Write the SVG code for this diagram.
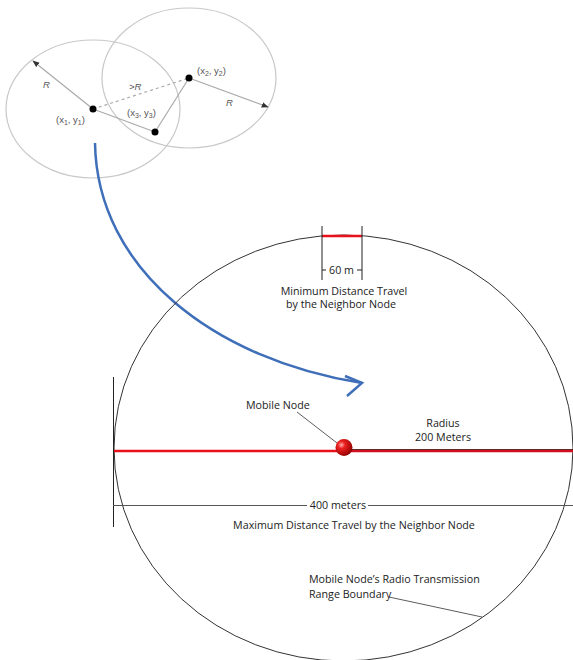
<svg xmlns="http://www.w3.org/2000/svg" width="573" height="660" viewBox="0 0 573 660">
<style>
.t{font-family:"Open Sans","Liberation Sans",sans-serif;font-size:10.7px;fill:#222}
.s{font-family:"Liberation Sans",Arial,sans-serif;font-size:9.5px;fill:#555}
.i{font-style:italic}
.lc{fill:none;stroke:#c8c8c8;stroke-width:1.2}
.gl{stroke:#aaa;stroke-width:1.2;fill:none}
.k{stroke:#222;stroke-width:1;fill:none}
</style>
<defs>
<marker id="tri" viewBox="0 0 10 10" refX="9" refY="5" markerWidth="7" markerHeight="7" orient="auto" markerUnits="userSpaceOnUse">
<path d="M0,1 L10,5 L0,9 z" fill="#333"/>
</marker>
<radialGradient id="ball" cx="0.35" cy="0.35" r="0.7">
<stop offset="0" stop-color="#ffb0b0"/>
<stop offset="0.3" stop-color="#ee2020"/>
<stop offset="1" stop-color="#900000"/>
</radialGradient>
</defs>

<g id="node-circle-1"><ellipse class="lc" cx="93" cy="109" rx="87" ry="69"/></g>
<g id="node-circle-2"><ellipse class="lc" cx="189" cy="78" rx="87" ry="70"/></g>

<g id="connectors">
<line class="gl" x1="93" y1="109" x2="33" y2="61" marker-end="url(#tri)"/>
<line class="gl" x1="189" y1="78" x2="268" y2="107" marker-end="url(#tri)"/>
<line class="gl" x1="93" y1="109" x2="189" y2="78" stroke-dasharray="3,3"/>
<line class="gl" x1="93" y1="109" x2="155" y2="132"/>
<line class="gl" x1="155" y1="132" x2="189" y2="78"/>
<path d="M95,143 C97,270 215,360 362,383" fill="none" stroke="#3f6fb8" stroke-width="2.5"/>
<path d="M345,376 L362,383 L347,396" fill="none" stroke="#3f6fb8" stroke-width="2.5"/>
<line x1="297" y1="412" x2="337" y2="443" stroke="#333" stroke-width="0.8"/>
<line x1="389" y1="597" x2="482" y2="617" stroke="#333" stroke-width="0.8"/>
</g>

<g id="node-points">
<circle cx="93" cy="109" r="3.5" fill="#000"/>
<circle cx="189" cy="78" r="3.5" fill="#000"/>
<circle cx="155" cy="132" r="3.5" fill="#000"/>
<text class="s i" x="43" y="88">R</text>
<text class="s i" x="226" y="106">R</text>
<text class="s i" x="129" y="90">&gt;R</text>
<text class="s" x="56" y="123">(x<tspan font-size="7" dy="2">1</tspan><tspan dy="-2">, y</tspan><tspan font-size="7" dy="2">1</tspan><tspan dy="-2">)</tspan></text>
<text class="s" x="127" y="116">(x<tspan font-size="7" dy="2">3</tspan><tspan dy="-2">, y</tspan><tspan font-size="7" dy="2">3</tspan><tspan dy="-2">)</tspan></text>
<text class="s" x="197" y="74">(x<tspan font-size="7" dy="2">2</tspan><tspan dy="-2">, y</tspan><tspan font-size="7" dy="2">2</tspan><tspan dy="-2">)</tspan></text>
</g>

<g id="range-boundary">
<ellipse cx="343.5" cy="448" rx="229.5" ry="213" fill="none" stroke="#333" stroke-width="1"/>
</g>

<g id="min-distance">
<line x1="322" y1="236" x2="362" y2="236" stroke="#e8101a" stroke-width="2.5"/>
<line class="k" x1="322" y1="226" x2="322" y2="280"/>
<line class="k" x1="362" y1="226" x2="362" y2="280"/>
<line class="k" x1="322" y1="270" x2="326" y2="270"/>
<line class="k" x1="357" y1="270" x2="362" y2="270"/>
<text class="t" x="341.5" y="274" text-anchor="middle" font-size="10">60 m</text>
<text class="t" x="344" y="295" text-anchor="middle">Minimum Distance Travel</text>
<text class="t" x="341" y="308" text-anchor="middle">by the Neighbor Node</text>
</g>

<g id="diameter">
<line x1="114" y1="451" x2="343" y2="451" stroke="#e8101a" stroke-width="2.5"/>
<line x1="343" y1="451" x2="573" y2="451" stroke="#d01020" stroke-width="2.5"/>
<line x1="343" y1="449.5" x2="573" y2="449.5" stroke="#400000" stroke-width="0.8"/>
<line class="k" x1="113.5" y1="377" x2="113.5" y2="527"/>
<line x1="113" y1="505.5" x2="307" y2="505.5" stroke="#555" stroke-width="1"/>
<line x1="368" y1="505.5" x2="573" y2="505.5" stroke="#555" stroke-width="1"/>
<text class="t" x="338" y="509" text-anchor="middle">400 meters</text>
<text class="t" x="354" y="529" text-anchor="middle">Maximum Distance Travel by the Neighbor Node</text>
</g>

<g id="mobile-node">
<circle cx="344" cy="447.5" r="8.5" fill="url(#ball)"/>
<text class="t" x="246" y="409">Mobile Node</text>
<text class="t" x="443" y="427" text-anchor="middle">Radius</text>
<text class="t" x="443" y="441" text-anchor="middle">200 Meters</text>
</g>

<g id="boundary-label">
<text class="t" x="309" y="583">Mobile Node’s Radio Transmission</text>
<text class="t" x="309" y="598">Range Boundary</text>
</g>
</svg>
